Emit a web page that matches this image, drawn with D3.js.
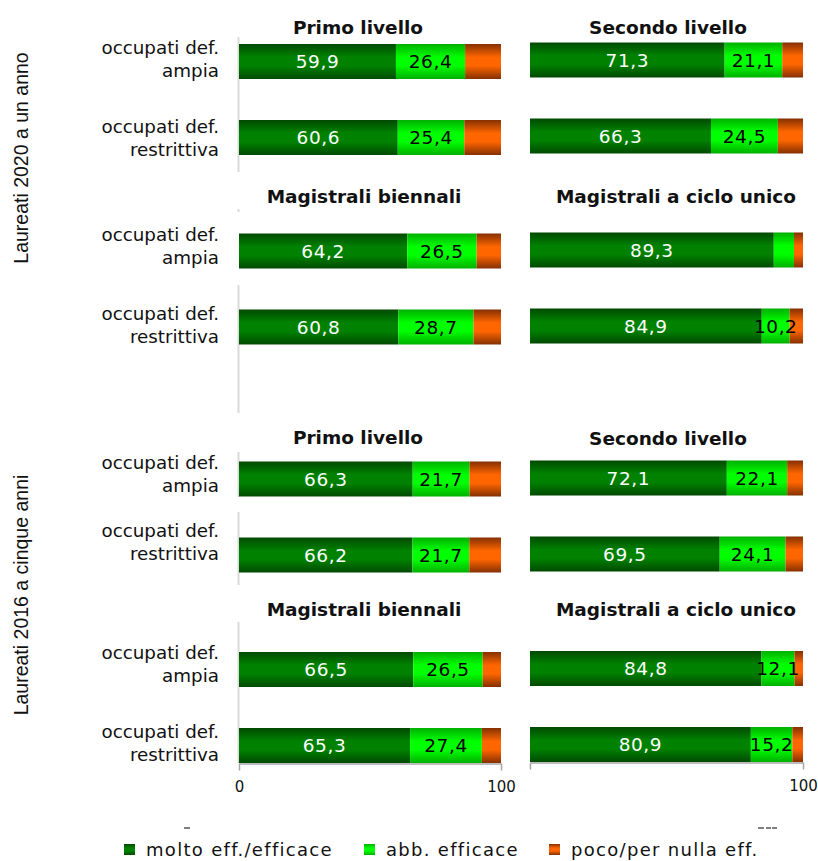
<!DOCTYPE html>
<html><head><meta charset="utf-8">
<script src="https://cdn.jsdelivr.net/npm/d3@7"></script>
<style>
html,body{margin:0;padding:0;background:#fff;}
svg{display:block;font-family:"DejaVu Sans",Verdana,sans-serif;}
</style></head>
<body><svg id="c" width="818" height="861"></svg>
<script>
// ---- data ----
const categories = ["ampia", "restrittiva"];
const groups = ["Laureati 2020 a un anno", "Laureati 2016 a cinque anni"];
const panelTitles = ["Primo livello", "Secondo livello", "Magistrali biennali", "Magistrali a ciclo unico"];
const seriesNames = ["molto eff./efficace", "abb. efficace", "poco/per nulla eff."];
// panel-major order: [Primo ampia, Primo restr, Secondo ampia, Secondo restr, MagB ampia, MagB restr, Ciclo ampia, Ciclo restr]
const molto2020 = [59.9, 60.6, 71.3, 66.3, 64.2, 60.8, 89.3, 84.9];
const abb2020   = [26.4, 25.4, 21.1, 24.5, 26.5, 28.7, 7.4, 10.2];
const poco2020  = [13.7, 14.0, 7.6, 9.2, 9.3, 10.5, 3.3, 4.9];
const molto2016 = [66.3, 66.2, 72.1, 69.5, 66.5, 65.3, 84.8, 80.9];
const abb2016   = [21.7, 21.7, 22.1, 24.1, 26.5, 27.4, 12.1, 15.2];
const poco2016  = [12.0, 12.1, 5.8, 6.4, 7.0, 7.3, 3.1, 3.9];
const xTicks = [0, 100];

// ---- layout ----
const svg = d3.select("#c");
const W = 818, H = 861;
const colX = [[239, 501], [530, 803]];
const barH = 35;
const panelLayout = [
  [ {col:0, c:[61.5,137.5], tx:358, ty:34}, {col:1, c:[60,136], tx:668, ty:34},
    {col:0, c:[251,327], tx:364, ty:203}, {col:1, c:[250,326], tx:676, ty:203} ],
  [ {col:0, c:[479,555], tx:358, ty:444}, {col:1, c:[478,554], tx:668, ty:445},
    {col:0, c:[669.5,745.5], tx:364, ty:616}, {col:1, c:[668.5,744.5], tx:676, ty:616} ]
];
const rowLabelY = [[58.5, 137.5, 245.5, 325], [474, 542, 664, 742.5]];
const groupLabelY = [158, 595];
const axisLines = [[37,172],[209,212],[285,413],[452,497],[512,585],[622,763]];

// gradients
const defs = svg.append("defs");
const grad = [
  {id:"g0", dark:"#004a00", bright:"#008200"},
  {id:"g1", dark:"#00b000", bright:"#00ff00"},
  {id:"g2", dark:"#853000", bright:"#ff6600"}
];
grad.forEach(g => {
  const lg = defs.append("linearGradient").attr("id", g.id).attr("x1",0).attr("y1",0).attr("x2",0).attr("y2",1);
  lg.append("stop").attr("offset","0%").attr("stop-color", g.dark);
  lg.append("stop").attr("offset","38%").attr("stop-color", g.bright);
  lg.append("stop").attr("offset","62%").attr("stop-color", g.bright);
  lg.append("stop").attr("offset","100%").attr("stop-color", g.dark);
});

// left axis lines (light gray)
svg.append("g").selectAll("line").data(axisLines).join("line")
  .attr("x1", 238.5).attr("x2", 238.5)
  .attr("y1", d => d[0]).attr("y2", d => d[1])
  .attr("stroke", "#d9d9d9").attr("stroke-width", 2);

const dataByHalf = [
  [molto2020, abb2020, poco2020],
  [molto2016, abb2016, poco2016]
];

const xScales = colX.map(r => d3.scaleLinear().domain([0, 100]).range(r));

dataByHalf.forEach((series, h) => {
  svg.append("text")
    .attr("transform", `translate(28,${groupLabelY[h]}) rotate(-90)`)
    .attr("text-anchor", "middle")
    .attr("font-family", "'Liberation Sans', Arial, sans-serif")
    .attr("font-size", 19.5).attr("fill", "#111")
    .text(groups[h]);

  panelLayout[h].forEach((p, pi) => {
    const x = xScales[p.col];
    const y = d3.scalePoint().domain(categories).range(p.c);
    const g = svg.append("g");
    g.append("text").attr("x", p.tx).attr("y", p.ty)
      .attr("text-anchor", "middle").attr("font-weight", "bold")
      .attr("font-size", 18.5).attr("fill", "#111")
      .text(panelTitles[pi]);
    categories.forEach((cat, ci) => {
      const idx = pi * 2 + ci;
      const vals = series.map(s => s[idx]);
      let acc = 0;
      const segs = vals.map((v, si) => { const s = {si, v, x0: acc, x1: acc + v}; acc += v; return s; });
      g.selectAll(null).data(segs).join("rect")
        .attr("x", d => x(d.x0))
        .attr("width", d => Math.max(0, x(Math.min(100, d.x1)) - x(d.x0)))
        .attr("y", y(cat) - barH / 2).attr("height", barH)
        .attr("fill", d => `url(#g${d.si})`);
      g.selectAll(null).data(segs.filter(d => d.si < 2 && d.v >= 10)).join("text")
        .attr("x", d => x((d.x0 + d.x1) / 2))
        .attr("y", y(cat))
        .attr("dy", "0.36em")
        .attr("text-anchor", "middle")
        .attr("font-size", 18.5)
        .attr("letter-spacing", 0.6)
        .attr("fill", d => d.si === 0 ? "#fff" : "#000")
        .text(d => d3.format(".1f")(d.v).replace(".", ","));
    });
    if (h === 1 && pi >= 2) {
      const rightCol = p.col === 1;
      const ax = g.append("g").attr("transform", `translate(0,${p.c[1] + barH / 2 + 0.5})`)
        .call(d3.axisBottom(x).tickValues(xTicks).tickSize(7).tickPadding(11).tickSizeOuter(0)
          .tickFormat(d => (rightCol && d === 0) ? "" : d));
      ax.select(".domain").attr("stroke", "#a6a6a6").attr("stroke-width", 1.5);
      ax.selectAll(".tick line").attr("stroke", "#a6a6a6").attr("stroke-width", 1.5);
      ax.selectAll(".tick text").attr("font-size", 15).attr("fill", "#111")
        .attr("font-family", "'DejaVu Sans', sans-serif");
    }
  });

  rowLabelY[h].forEach((cy, k) => {
    const cat = categories[k % 2];
    const t = svg.append("text").attr("text-anchor", "end")
      .attr("font-size", 18.3).attr("fill", "#111");
    t.append("tspan").attr("x", 219).attr("y", cy - 11.5).attr("dy", "0.36em").text("occupati def.");
    t.append("tspan").attr("x", 219).attr("y", cy + 11.5).attr("dy", "0.36em").text(cat);
  });
});

// tiny fragments of hidden tick labels peeking above the legend
svg.append("g").selectAll("line").data([[184, 190], [758, 764], [766, 771], [772, 777]]).join("line")
  .attr("x1", d => d[0]).attr("x2", d => d[1]).attr("y1", 828).attr("y2", 828)
  .attr("stroke", "#555").attr("stroke-width", 1.5);

// legend
const legX = [124, 364, 549];
const leg = svg.append("g");
seriesNames.forEach((s, i) => {
  leg.append("rect").attr("x", legX[i]).attr("y", 844).attr("width", 11).attr("height", 11)
    .attr("fill", `url(#g${i})`);
  leg.append("text").attr("x", legX[i] + 22).attr("y", 850).attr("dy", "0.36em")
    .attr("font-size", 18).attr("letter-spacing", 1.3).attr("fill", "#111").text(s);
});
</script>
</body></html>
